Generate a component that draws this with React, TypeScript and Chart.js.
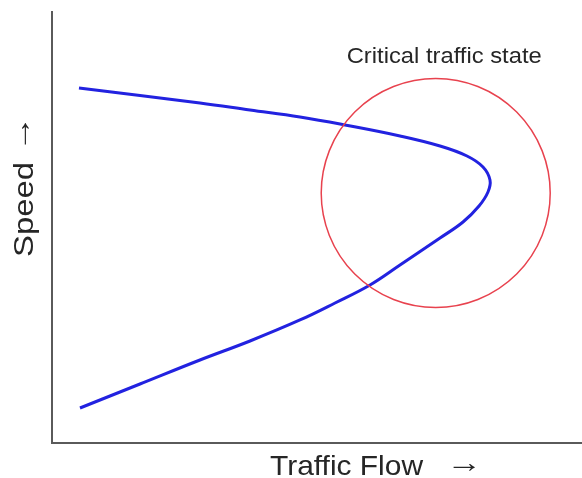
import React, { useEffect, useRef } from "react";
import { Chart, registerables } from "chart.js";

Chart.register(...registerables);

// Speed–flow curve (flow on x, speed on y), traced from free-flow branch through the
// capacity point to the congested branch
const flow = [
  5.09, 16.6, 27.92, 37.36, 46.79, 55.28, 65.66, 73.21, 78.3, 81.32, 82.64,
  82.26, 80.57, 77.55, 73.21, 65.66, 60.0, 53.4, 46.79, 37.36, 27.92, 16.6, 5.28,
];
const speed = [
  82.37, 80.63, 78.89, 77.26, 75.64, 73.78, 71.23, 68.91, 66.59, 64.04, 61.02,
  58.24, 54.99, 51.28, 47.56, 41.3, 36.66, 32.48, 28.54, 23.67, 19.26, 13.69, 8.12,
];

// Critical traffic state marker (circle centre) and its label position
const criticalFlow = [72.4];
const criticalSpeed = [58.0];
const labelFlow = 74.0;
const labelSpeed = 88.2;

const xTitle = "Traffic Flow";
const yTitle = "Speed";
const criticalLabel = "Critical traffic state";
const arrow = "\u2192";

const FONT = "'Liberation Sans', Arial, Helvetica, sans-serif";
const CIRCLE_RADIUS = 114.5;

function drawFitted(ctx: CanvasRenderingContext2D, text: string, size: number, target: number) {
  ctx.font = `${size}px ${FONT}`;
  const w = ctx.measureText(text).width;
  const s = target / w;
  ctx.save();
  ctx.scale(s, 1);
  ctx.fillText(text, 0, 0);
  ctx.restore();
}

const circlePlugin = {
  id: "circlePlugin",
  afterDatasetsDraw(chart: any) {
    const { ctx, scales } = chart;
    ctx.save();
    ctx.strokeStyle = "#e8424e";
    ctx.lineWidth = 1.5;
    criticalFlow.forEach((f, i) => {
      const cx = scales.x.getPixelForValue(f);
      const cy = scales.y.getPixelForValue(criticalSpeed[i]);
      ctx.beginPath();
      ctx.arc(cx, cy, CIRCLE_RADIUS, 0, Math.PI * 2);
      ctx.stroke();
    });
    ctx.restore();
  },
};

const textPlugin = {
  id: "textPlugin",
  afterDraw(chart: any) {
    const { ctx, chartArea, scales } = chart;
    ctx.save();
    ctx.fillStyle = "#262626";
    ctx.textBaseline = "alphabetic";
    ctx.textAlign = "left";

    // Critical label centred above circle
    const lx = scales.x.getPixelForValue(labelFlow);
    const ly = scales.y.getPixelForValue(labelSpeed);
    ctx.save();
    ctx.translate(lx - 97.5, ly);
    drawFitted(ctx, criticalLabel, 22, 195);
    ctx.restore();

    // X axis title
    ctx.save();
    ctx.translate(chartArea.left + 218, chartArea.bottom + 32);
    drawFitted(ctx, xTitle, 28, 153);
    ctx.restore();
    ctx.save();
    ctx.translate(chartArea.left + 394, chartArea.bottom + 29);
    drawFitted(ctx, arrow, 28, 36);
    ctx.restore();

    // Y axis title (rotated)
    ctx.save();
    ctx.translate(33, 257);
    ctx.rotate(-Math.PI / 2);
    drawFitted(ctx, yTitle, 28, 95);
    ctx.restore();
    ctx.save();
    ctx.translate(30, 152);
    ctx.rotate(-Math.PI / 2);
    drawFitted(ctx, arrow, 28, 36);
    ctx.restore();

    ctx.restore();
  },
};

export default function App() {
  const ref = useRef<HTMLCanvasElement | null>(null);

  useEffect(() => {
    document.body.style.margin = "0";
    const canvas = ref.current;
    if (!canvas) return;
    const chart = new Chart(canvas, {
      type: "scatter",
      data: {
        datasets: [
          {
            label: "Speed-flow",
            data: flow.map((f, i) => ({ x: f, y: speed[i] })),
            showLine: true,
            borderColor: "#2222e0",
            borderWidth: 3,
            pointRadius: 0,
            pointHoverRadius: 0,
            tension: 0.4,
            fill: false,
          },
        ],
      },
      options: {
        responsive: false,
        animation: false,
        events: [],
        layout: { padding: { left: 52, top: 12, right: 0, bottom: 35 } },
        plugins: {
          legend: { display: false },
          tooltip: { enabled: false },
          title: { display: false },
        },
        scales: {
          x: {
            type: "linear",
            min: 0,
            max: 100,
            ticks: { display: false },
            grid: { display: false, drawTicks: false },
            border: { display: true, color: "#5a5a5a", width: 2 },
            title: { display: false },
          },
          y: {
            type: "linear",
            min: 0,
            max: 100,
            ticks: { display: false },
            grid: { display: false, drawTicks: false },
            border: { display: true, color: "#5a5a5a", width: 2 },
            title: { display: false },
          },
        },
      },
      plugins: [circlePlugin, textPlugin],
    });
    return () => chart.destroy();
  }, []);

  return (
    <div style={{ width: 582, height: 478, background: "#fff" }}>
      <canvas ref={ref} width={582} height={478} style={{ display: "block", width: 582, height: 478 }} />
    </div>
  );
}
